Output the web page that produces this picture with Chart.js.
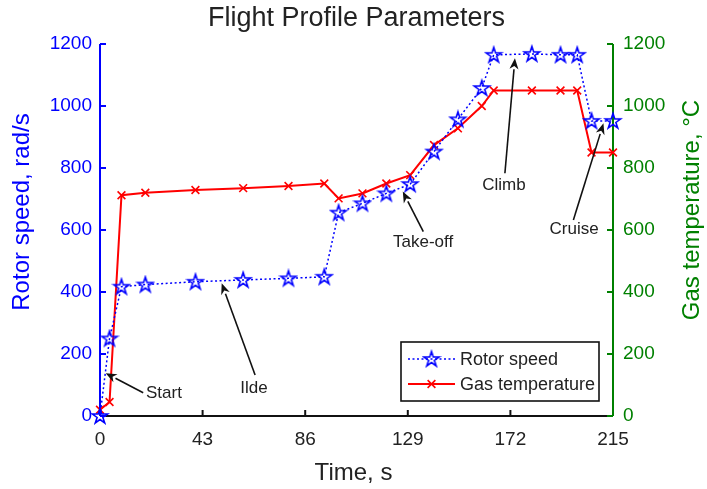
<!DOCTYPE html>
<html>
<head>
<meta charset="utf-8">
<title>Flight Profile Parameters</title>
<script src="https://cdn.jsdelivr.net/npm/chart.js@4.4.1/dist/chart.umd.min.js"></script>
<style>
  html, body { margin: 0; padding: 0; background: #ffffff; }
  #wrap { width: 707px; height: 489px; }
</style>
</head>
<body>
<div id="wrap"><canvas id="chart" width="707" height="489"></canvas></div>
<script>
// ---- data -------------------------------------------------------------
const timeSec    = [0, 4, 9, 19, 40, 60, 79, 94, 100, 110, 120, 130, 140, 150, 160, 165, 181, 193, 200, 206, 215];
const rotorSpeed = [0, 250, 417, 424, 433, 439, 444, 449, 656, 686, 718, 748, 853, 957, 1058, 1165, 1168, 1165, 1165, 952, 952];
const gasTemp    = [20, 45, 712, 720, 729, 735, 742, 750, 702, 718, 750, 777, 874, 928, 1000, 1050, 1050, 1050, 1050, 850, 850];

const timeTicks  = [0, 43, 86, 129, 172, 215];
const leftTicks  = [0, 200, 400, 600, 800, 1000, 1200];
const rightTicks = [0, 200, 400, 600, 800, 1000, 1200];

// flight phase callouts: label centre, arrow tail and arrow head (time, rotor-speed units)
const phaseLabels = ['Start', 'Ilde', 'Take-off', 'Climb', 'Cruise'];
const phaseText   = [[26.8, 74], [64.5, 90], [135.4, 561], [169.3, 745], [198.7, 603]];
const phaseTail   = [[18.1, 75], [65.0, 132], [135.5, 595], [169.7, 783], [198.4, 632]];
const phaseHead   = [[2.4, 138], [51.0, 428], [126.9, 724], [173.9, 1154], [211.0, 944]];

// ---- styling ----------------------------------------------------------
const FONT = "'Liberation Sans', Arial, Helvetica, sans-serif";
const BLUE = '#0000ff';
const RED = '#ff0000';
const GREEN = '#008000';
const INK = '#222222';

Chart.defaults.font.family = FONT;

// hollow five-pointed star marker
function makeStar(color) {
  const c = document.createElement('canvas');
  c.width = 20; c.height = 20;
  const g = c.getContext('2d');
  const R = 8, r = R * 0.382;
  g.beginPath();
  for (let i = 0; i < 10; i++) {
    const ang = -Math.PI / 2 + i * Math.PI / 5;
    const rad = i % 2 === 0 ? R : r;
    const px = 10 + rad * Math.cos(ang), py = 10.5 + rad * Math.sin(ang);
    if (i === 0) g.moveTo(px, py); else g.lineTo(px, py);
  }
  g.closePath();
  g.strokeStyle = color;
  g.lineWidth = 1.6;
  g.lineJoin = 'miter';
  g.stroke();
  return c;
}
const starMarker = makeStar(BLUE);

function seg(ctx, x1, y1, x2, y2) {
  ctx.beginPath(); ctx.moveTo(x1, y1); ctx.lineTo(x2, y2); ctx.stroke();
}

// axis lines with inward tick marks
const axisFrame = {
  id: 'axisFrame',
  beforeDatasetsDraw(chart) {
    const { ctx, chartArea: a, scales } = chart;
    const tick = 6;
    ctx.save();
    ctx.lineWidth = 2;
    ctx.lineCap = 'butt';

    ctx.strokeStyle = '#111111';
    seg(ctx, a.left, a.bottom, a.right, a.bottom);
    scales.x.ticks.forEach(t => {
      const px = scales.x.getPixelForValue(t.value);
      seg(ctx, px, a.bottom, px, a.bottom - tick);
    });

    ctx.strokeStyle = BLUE;
    seg(ctx, a.left, a.top, a.left, a.bottom);
    scales.y.ticks.forEach(t => {
      const py = scales.y.getPixelForValue(t.value);
      seg(ctx, a.left, py, a.left + tick, py);
    });

    ctx.strokeStyle = GREEN;
    seg(ctx, a.right, a.top, a.right, a.bottom);
    scales.y1.ticks.forEach(t => {
      const py = scales.y1.getPixelForValue(t.value);
      seg(ctx, a.right, py, a.right - tick, py);
    });
    ctx.restore();
  }
};

// axis titles (both vertical titles read bottom-to-top)
const axisTitles = {
  id: 'axisTitles',
  afterDraw(chart) {
    const { ctx, chartArea: a } = chart;
    const midY = (a.top + a.bottom) / 2 - 18;
    ctx.save();
    ctx.font = '24px ' + FONT;
    ctx.textAlign = 'center';
    ctx.textBaseline = 'middle';

    ctx.fillStyle = INK;
    ctx.fillText('Time, s', (a.left + a.right) / 2 - 3, a.bottom + 57);

    ctx.save();
    ctx.translate(a.left - 78, midY);
    ctx.rotate(-Math.PI / 2);
    ctx.fillStyle = BLUE;
    ctx.fillText('Rotor speed, rad/s', 0, 0);
    ctx.restore();

    ctx.save();
    ctx.translate(a.right + 79, midY - 2);
    ctx.rotate(-Math.PI / 2);
    ctx.fillStyle = GREEN;
    ctx.fillText('Gas temperature, \u00B0C', 0, 0);
    ctx.restore();
    ctx.restore();
  }
};

// phase callouts with arrows
const phaseNotes = {
  id: 'phaseNotes',
  afterDatasetsDraw(chart) {
    const { ctx, scales: { x, y } } = chart;
    ctx.save();
    ctx.font = '17px ' + FONT;
    ctx.textAlign = 'center';
    ctx.textBaseline = 'middle';
    phaseLabels.forEach((label, i) => {
      const tx = x.getPixelForValue(phaseText[i][0]), ty = y.getPixelForValue(phaseText[i][1]);
      const x1 = x.getPixelForValue(phaseTail[i][0]), y1 = y.getPixelForValue(phaseTail[i][1]);
      const x2 = x.getPixelForValue(phaseHead[i][0]), y2 = y.getPixelForValue(phaseHead[i][1]);
      ctx.fillStyle = INK;
      ctx.fillText(label, tx, ty);

      const ang = Math.atan2(y2 - y1, x2 - x1);
      const hl = 11, hw = 4.5;
      const bx = x2 - hl * Math.cos(ang), by = y2 - hl * Math.sin(ang);
      ctx.strokeStyle = '#111111';
      ctx.lineWidth = 1.6;
      seg(ctx, x1, y1, bx, by);
      ctx.fillStyle = '#111111';
      ctx.beginPath();
      ctx.moveTo(x2, y2);
      ctx.lineTo(bx + hw * Math.sin(ang), by - hw * Math.cos(ang));
      ctx.lineTo(x2 - 0.7 * hl * Math.cos(ang), y2 - 0.7 * hl * Math.sin(ang));
      ctx.lineTo(bx - hw * Math.sin(ang), by + hw * Math.cos(ang));
      ctx.closePath();
      ctx.fill();
    });
    ctx.restore();
  }
};

// boxed legend inside the lower right of the plot
const boxLegend = {
  id: 'boxLegend',
  afterDatasetsDraw(chart) {
    const { ctx, chartArea: a } = chart;
    const w = 198, h = 59;
    const left = a.right - 212, top = a.bottom - 74;
    ctx.save();
    ctx.fillStyle = '#ffffff';
    ctx.fillRect(left, top, w, h);
    ctx.strokeStyle = '#111111';
    ctx.lineWidth = 1.6;
    ctx.strokeRect(left, top, w, h);

    ctx.font = '18px ' + FONT;
    ctx.textAlign = 'left';
    ctx.textBaseline = 'middle';
    chart.data.datasets.forEach((ds, i) => {
      const ry = top + 17 + i * 25;
      const lx1 = left + 7, lx2 = left + 54, mx = (lx1 + lx2) / 2;
      ctx.strokeStyle = ds.borderColor;
      ctx.lineWidth = ds.borderWidth;
      ctx.setLineDash(ds.borderDash || []);
      seg(ctx, lx1, ry, lx2, ry);
      ctx.setLineDash([]);
      if (ds.pointStyle instanceof HTMLCanvasElement) {
        ctx.drawImage(ds.pointStyle, mx - ds.pointStyle.width / 2, ry - ds.pointStyle.height / 2);
      } else {
        const r = ds.pointRadius * Math.SQRT1_2;
        ctx.lineWidth = ds.pointBorderWidth;
        seg(ctx, mx - r, ry - r, mx + r, ry + r);
        seg(ctx, mx - r, ry + r, mx + r, ry - r);
      }
      ctx.fillStyle = INK;
      ctx.fillText(ds.label, left + 59, ry + 1);
    });
    ctx.restore();
  }
};

const fixedTicks = list => scale => { scale.ticks = list.map(v => ({ value: v })); };
const plainLabel = v => String(v);

new Chart(document.getElementById('chart'), {
  type: 'line',
  data: {
    datasets: [
      {
        label: 'Rotor speed',
        data: timeSec.map((t, i) => ({ x: t, y: rotorSpeed[i] })),
        yAxisID: 'y',
        borderColor: BLUE,
        borderWidth: 1.5,
        borderDash: [2, 2.5],
        pointStyle: starMarker,
        pointRadius: 8,
        pointBorderColor: BLUE,
        pointBackgroundColor: 'rgba(0,0,0,0)',
        fill: false,
        tension: 0,
        clip: false
      },
      {
        label: 'Gas temperature',
        data: timeSec.map((t, i) => ({ x: t, y: gasTemp[i] })),
        yAxisID: 'y1',
        borderColor: RED,
        borderWidth: 2,
        pointStyle: 'crossRot',
        pointRadius: 5.5,
        pointBorderWidth: 1.6,
        pointBorderColor: RED,
        pointBackgroundColor: RED,
        fill: false,
        tension: 0,
        clip: false
      }
    ]
  },
  options: {
    responsive: false,
    animation: false,
    events: [],
    layout: { padding: 0 },
    plugins: {
      legend: { display: false },
      tooltip: { enabled: false },
      title: {
        display: true,
        fullSize: false,
        text: 'Flight Profile Parameters',
        color: INK,
        font: { family: FONT, size: 27, weight: 'normal' },
        padding: { top: 2, bottom: 9.6 }
      }
    },
    scales: {
      x: {
        type: 'linear',
        min: 0, max: 215,
        afterBuildTicks: fixedTicks(timeTicks),
        afterFit: s => { s.height = 73; },
        grid: { display: false, drawTicks: false },
        border: { display: false },
        ticks: { color: INK, font: { size: 19 }, padding: 12, maxRotation: 0, callback: plainLabel }
      },
      y: {
        type: 'linear',
        position: 'left',
        min: 0, max: 1200,
        afterBuildTicks: fixedTicks(leftTicks),
        afterFit: s => { s.width = 100; },
        grid: { display: false, drawTicks: false },
        border: { display: false },
        ticks: { color: BLUE, font: { size: 19 }, padding: 8, callback: plainLabel }
      },
      y1: {
        type: 'linear',
        position: 'right',
        min: 0, max: 1200,
        afterBuildTicks: fixedTicks(rightTicks),
        afterFit: s => { s.width = 94; },
        grid: { display: false, drawTicks: false },
        border: { display: false },
        ticks: { color: GREEN, font: { size: 19 }, padding: 10, callback: plainLabel }
      }
    }
  },
  plugins: [axisFrame, phaseNotes, boxLegend, axisTitles]
});
</script>
</body>
</html>
